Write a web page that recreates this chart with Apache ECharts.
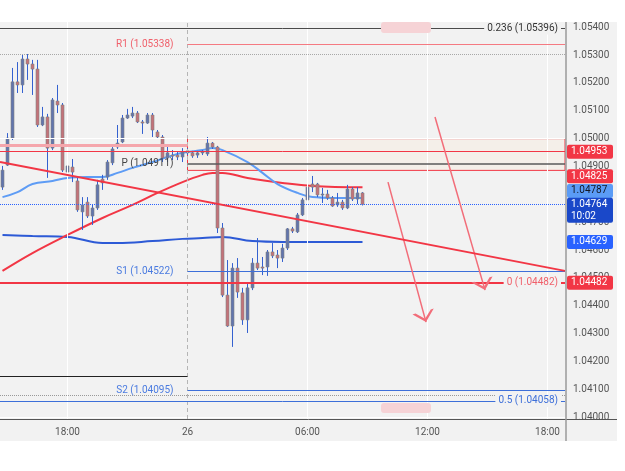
<!DOCTYPE html>
<html>
<head>
<meta charset="utf-8">
<title>EURUSD 15m</title>
<script src="https://cdn.jsdelivr.net/npm/echarts@6/dist/echarts.min.js"></script>
<style>
  html, body { margin: 0; padding: 0; background: #fff; }
  #main { width: 625px; height: 471px; }
</style>
</head>
<body>
<div id="main"></div>
<script>
// 15 minute bars, the first one opens 14:45 on the 25th
// [open, close, low, high]
const candles = [
  [1.04826, 1.04887, 1.04816, 1.04902],
  [1.04905, 1.05002, 1.04902, 1.05020],
  [1.05002, 1.05204, 1.04995, 1.05254],
  [1.05204, 1.05193, 1.05164, 1.05275],
  [1.05193, 1.05286, 1.05164, 1.05304],
  [1.05286, 1.05268, 1.05211, 1.05304],
  [1.05268, 1.05250, 1.05157, 1.05283],
  [1.05250, 1.05049, 1.05042, 1.05283],
  [1.05049, 1.05078, 1.05045, 1.05114],
  [1.05078, 1.04966, 1.04859, 1.05089],
  [1.04966, 1.05139, 1.04959, 1.05146],
  [1.05135, 1.05121, 1.05092, 1.05193],
  [1.05121, 1.04887, 1.04880, 1.05128],
  [1.04880, 1.04902, 1.04870, 1.04941],
  [1.04898, 1.04880, 1.04844, 1.04927],
  [1.04848, 1.04744, 1.04737, 1.04859],
  [1.04737, 1.04762, 1.04672, 1.04790],
  [1.04772, 1.04722, 1.04715, 1.04790],
  [1.04722, 1.04751, 1.04690, 1.04762],
  [1.04751, 1.04834, 1.04744, 1.04852],
  [1.04855, 1.04841, 1.04816, 1.04870],
  [1.04862, 1.04916, 1.04852, 1.04923],
  [1.04913, 1.04963, 1.04905, 1.04977],
  [1.04970, 1.04984, 1.04963, 1.05049],
  [1.04988, 1.05074, 1.04984, 1.05085],
  [1.05074, 1.05085, 1.05071, 1.05107],
  [1.05081, 1.05092, 1.05074, 1.05114],
  [1.05092, 1.05060, 1.05056, 1.05099],
  [1.05060, 1.05056, 1.05017, 1.05067],
  [1.05056, 1.05085, 1.05053, 1.05092],
  [1.05085, 1.05031, 1.05006, 1.05092],
  [1.05024, 1.05006, 1.05002, 1.05031],
  [1.05006, 1.04931, 1.04916, 1.05013],
  [1.04931, 1.04949, 1.04916, 1.04970],
  [1.04941, 1.04938, 1.04923, 1.04959],
  [1.04941, 1.04934, 1.04923, 1.04952],
  [1.04934, 1.04952, 1.04916, 1.04966],
  [1.04949, 1.04956, 1.04941, 1.04966],
  [1.04949, 1.04938, 1.04931, 1.04956],
  [1.04941, 1.04949, 1.04931, 1.04956],
  [1.04949, 1.04952, 1.04941, 1.04959],
  [1.04945, 1.04984, 1.04938, 1.05006],
  [1.04984, 1.04970, 1.04963, 1.04988],
  [1.04970, 1.04679, 1.04661, 1.04974],
  [1.04679, 1.04438, 1.04431, 1.04697],
  [1.04438, 1.04327, 1.04324, 1.04564],
  [1.04327, 1.04535, 1.04252, 1.04553],
  [1.04535, 1.04449, 1.04428, 1.04571],
  [1.04446, 1.04349, 1.04331, 1.04464],
  [1.04349, 1.04464, 1.04302, 1.04482],
  [1.04464, 1.04553, 1.04456, 1.04571],
  [1.04553, 1.04535, 1.04528, 1.04643],
  [1.04539, 1.04535, 1.04510, 1.04575],
  [1.04539, 1.04593, 1.04507, 1.04600],
  [1.04593, 1.04579, 1.04571, 1.04625],
  [1.04582, 1.04571, 1.04535, 1.04600],
  [1.04571, 1.04607, 1.04557, 1.04622],
  [1.04607, 1.04676, 1.04600, 1.04679],
  [1.04676, 1.04668, 1.04661, 1.04683],
  [1.04665, 1.04726, 1.04661, 1.04733],
  [1.04726, 1.04780, 1.04722, 1.04787],
  [1.04780, 1.04826, 1.04776, 1.04905],
  [1.04837, 1.04826, 1.04808, 1.04866],
  [1.04837, 1.04798, 1.04790, 1.04841],
  [1.04798, 1.04801, 1.04769, 1.04823],
  [1.04801, 1.04787, 1.04780, 1.04816],
  [1.04787, 1.04758, 1.04755, 1.04794],
  [1.04762, 1.04772, 1.04755, 1.04805],
  [1.04772, 1.04751, 1.04744, 1.04780],
  [1.04751, 1.04819, 1.04747, 1.04834],
  [1.04819, 1.04783, 1.04776, 1.04826],
  [1.04783, 1.04805, 1.04765, 1.04826],
  [1.04805, 1.04764, 1.04760, 1.04808]
];

// moving averages, [bar index, value]
const maFast = [[0, 1.04790], [3, 1.04808], [6, 1.04837], [10, 1.04848], [13, 1.04859], [17, 1.04862],
  [20, 1.04862], [23, 1.04877], [26, 1.04895], [30, 1.04916], [33, 1.04934], [36, 1.04949], [40, 1.04959],
  [42, 1.04966], [44, 1.04959], [49, 1.04916], [52, 1.04877], [55, 1.04837], [59, 1.04805], [62, 1.04790],
  [66, 1.04787], [72, 1.04787]];
const maMid = [[0, 1.04525], [6, 1.04589], [13, 1.04654], [20, 1.04715], [26, 1.04762], [31, 1.04805],
  [36, 1.04844], [40, 1.04870], [42, 1.04877], [44, 1.04877], [49, 1.04859], [56, 1.04841], [62, 1.04830],
  [72, 1.04825]];
const maSlow = [[0, 1.04654], [6, 1.04650], [13, 1.04647], [20, 1.04625], [23, 1.04625], [30, 1.04632],
  [36, 1.04640], [40, 1.04643], [44, 1.04647], [50, 1.04632], [56, 1.04629], [64, 1.04629], [72, 1.04629]];

// drawings (x in bar units)
const trendLine = [[-0.5, 1.04916], [112.5, 1.04525]];
const arrowLines = [
  [[77.1, 1.04844], [84.7, 1.04341]],
  [[86.5, 1.05078], [96.5, 1.04456]]
];

const pivots = { R1: 1.05338, P: 1.04911, S1: 1.04522, S2: 1.04095 };
const fibs = { '0.236': 1.05396, '0': 1.04482, '0.5': 1.04058 };
const zoneTop = 1.05000, zoneBottom = 1.04886, zoneLine = 1.04953;
const prevLevel = 1.04977, dayHigh = 1.05304, oldLow = 1.04148, dotLow = 1.04079;
const lastPrice = 1.04764;

const yTicks = [1.040, 1.041, 1.042, 1.043, 1.044, 1.045, 1.046, 1.047, 1.048, 1.049, 1.050, 1.051, 1.052, 1.053, 1.054];
const xTickLabels = ['18:00', '26', '06:00', '12:00'];

const tagPrices = [1.04953, 1.04825, 1.04787, 1.04764, 1.04629, 1.04482];
const tagTexts = ['1.04953', '1.04825', '1.04787', '1.04764\n10:02', '1.04629', '1.04482'];

// ---- categories: 15 min steps from 14:45 (25th) to 18:45 (26th)
const categories = [];
for (let i = 0; i < 113; i++) {
  const t = 14 * 60 + 45 + i * 15;
  const m = t % 1440;
  const hh = String(Math.floor(m / 60)).padStart(2, '0');
  const mm = String(m % 60).padStart(2, '0');
  categories.push(m === 0 ? '26' : hh + ':' + mm);
}
const X_L = -0.5, X_R = categories.length - 0.5;
const X_DAY = categories.indexOf('26');

const FONT = 'Roboto, sans-serif';
const PANEL = '#f2f2f2';
const RED = '#f23645', BLUE = '#3d6fd9';

function seg(x1, x2, p, lineStyle, label) {
  return [{ coord: [x1, p], lineStyle: lineStyle, label: label || { show: false } }, { coord: [x2, p] }];
}
function leftLabel(text, color) {
  return { show: true, position: 'start', distance: 14, formatter: text, color: color, fontSize: 10, fontFamily: FONT };
}
function endLabel(text, color) {
  return { show: true, position: 'insideEnd', distance: 4, formatter: text, color: color, fontSize: 10,
    fontFamily: FONT, backgroundColor: PANEL, padding: [1, 3] };
}
const px = v => v.toFixed(5);

function renderCandle(params, api) {
  const i = api.value(0);
  const o = api.value(1), c = api.value(2), l = api.value(3), h = api.value(4);
  const hi = api.coord([i, h]), lo = api.coord([i, l]);
  const po = api.coord([i, o]), pc = api.coord([i, c]);
  const w = api.size([1, 0])[0] * 0.6;
  const top = Math.min(po[1], pc[1]);
  const hgt = Math.max(1, Math.abs(po[1] - pc[1]));
  return {
    type: 'group',
    children: [
      { type: 'line', shape: { x1: hi[0], y1: hi[1], x2: lo[0], y2: lo[1] }, style: { stroke: '#3461d0', lineWidth: 1 } },
      { type: 'rect', shape: { x: hi[0] - w / 2, y: top, width: w, height: hgt },
        style: { fill: c >= o ? '#6275ad' : '#c3737a', stroke: 'rgba(130,130,130,0.6)', lineWidth: 1 } }
    ]
  };
}

const CHEVRON = 'path://M5,0L5,0M5,5L10,10L8.6,10L5,6.6L1.4,10L0,10Z';

const gridLines = yTicks.map(v => ({ yAxis: v }));
categories.forEach((c, i) => {
  if (c === '26') gridLines.push({ xAxis: i, lineStyle: { color: '#b5b5b5', type: [4, 3], width: 1 } });
  else if (xTickLabels.indexOf(c) >= 0) gridLines.push({ xAxis: i });
});

const option = {
  backgroundColor: '#ffffff',
  animation: false,
  textStyle: { fontFamily: FONT },
  grid: { left: 0, right: 60, top: 22, bottom: 52 },
  xAxis: [
    {
      type: 'category',
      data: categories,
      boundaryGap: true,
      axisLine: { show: false },
      axisTick: { show: false },
      splitLine: { show: false },
      axisLabel: {
        interval: (idx, val) => xTickLabels.indexOf(val) >= 0,
        color: '#555', fontSize: 10, margin: 8, fontFamily: FONT
      }
    },
    { type: 'value', min: X_L, max: X_R, show: false }
  ],
  yAxis: {
    type: 'value',
    position: 'right',
    min: 1.03993,
    max: 1.05419,
    axisLine: { show: false },
    axisTick: { show: false },
    splitLine: { show: false },
    axisLabel: { customValues: yTicks, formatter: v => px(v), color: '#555', fontSize: 10, margin: 8, fontFamily: FONT }
  },
  series: [
    {
      name: 'grid', type: 'line', xAxisIndex: 1, data: [], z: 1, silent: true,
      markLine: { silent: true, symbol: 'none', animation: false, label: { show: false },
        lineStyle: { color: '#ffffff', width: 1, type: 'solid' }, data: gridLines }
    },
    {
      name: 'levels', type: 'line', xAxisIndex: 1, data: [], z: 2, silent: true,
      markArea: {
        silent: true,
        data: [[{ coord: [X_DAY, zoneTop], itemStyle: { color: '#f4efe9', borderColor: RED, borderWidth: 1 } },
                { coord: [X_R, zoneBottom] }]]
      },
      markLine: {
        silent: true, symbol: 'none', animation: false,
        data: [
          seg(X_L, X_R, fibs['0.236'], { color: '#4a4a4a', width: 1, type: 'solid' }, endLabel('0.236 (' + px(fibs['0.236']) + ')', '#333')),
          seg(X_L, X_R, dayHigh, { color: '#a8a8a8', width: 1, type: 'dotted' }),
          seg(X_DAY, X_R, pivots.R1, { color: '#f57a82', width: 1, type: 'solid' }, leftLabel('R1 (' + px(pivots.R1) + ')', '#f0606b')),
          seg(X_L, X_DAY, prevLevel, { color: '#f5a6ac', width: 3, type: 'solid' }),
          seg(X_L, X_R, zoneLine, { color: RED, width: 1, type: 'solid' }),
          seg(X_DAY, X_R, pivots.P, { color: '#5a5a5a', width: 1.5, type: 'solid' }, leftLabel('P (' + px(pivots.P) + ')', '#444')),
          seg(X_L, X_R, lastPrice, { color: '#2962ff', width: 1, type: 'dotted' }),
          seg(X_DAY, X_R, pivots.S1, { color: BLUE, width: 1, type: 'solid' }, leftLabel('S1 (' + px(pivots.S1) + ')', '#4a7be0')),
          seg(X_L, X_R, fibs['0'], { color: RED, width: 2, type: 'solid' }, endLabel('0 (' + px(fibs['0']) + ')', '#f0606b')),
          seg(X_L, X_DAY, oldLow, { color: '#222', width: 1, type: 'solid' }),
          seg(X_DAY, X_R, pivots.S2, { color: BLUE, width: 1, type: 'solid' }, leftLabel('S2 (' + px(pivots.S2) + ')', '#4a7be0')),
          seg(X_L, X_R, dotLow, { color: '#999', width: 1, type: 'dotted' }),
          seg(X_L, X_R, fibs['0.5'], { color: BLUE, width: 1, type: 'solid' }, endLabel('0.5 (' + px(fibs['0.5']) + ')', '#3d6fd9'))
        ]
      }
    },
    { name: 'MA slow', type: 'line', data: maSlow, smooth: 0.4, showSymbol: false, z: 3, lineStyle: { color: '#2d5ad6', width: 2 } },
    { name: 'MA mid', type: 'line', data: maMid, smooth: 0.4, showSymbol: false, z: 3, lineStyle: { color: RED, width: 2 } },
    { name: 'MA fast', type: 'line', data: maFast, smooth: 0.4, showSymbol: false, z: 3, lineStyle: { color: '#5e9cf5', width: 2 } },
    {
      name: 'EURUSD', type: 'custom', z: 4,
      renderItem: renderCandle,
      encode: { x: 0, y: [1, 2, 3, 4] },
      data: candles.map((d, i) => [i].concat(d))
    },
    {
      name: 'trend', type: 'line', xAxisIndex: 1, data: trendLine, z: 5, showSymbol: false,
      lineStyle: { color: RED, width: 2 },
      markLine: {
        silent: true, animation: false,
        symbol: ['none', CHEVRON], symbolSize: 22,
        label: { show: false },
        lineStyle: { color: '#f26d79', width: 1.5, type: 'solid' },
        data: arrowLines.map(a => [{ coord: a[0] }, { coord: a[1] }])
      }
    }
  ],
  graphic: [
    { type: 'rect', z: -100, silent: true, shape: { x: 0, y: 22, width: 617, height: 419 }, style: { fill: PANEL } },
    { type: 'rect', z: 50, silent: true, shape: { x: 381, y: 22, width: 50, height: 11, r: 3 }, style: { fill: '#f6d3d6' } },
    { type: 'rect', z: 50, silent: true, shape: { x: 381, y: 403, width: 50, height: 10, r: 3 }, style: { fill: '#f6d3d6' } },
    { type: 'line', z: 60, silent: true, shape: { x1: 0, y1: 419.5, x2: 617, y2: 419.5 }, style: { stroke: '#555', lineWidth: 1 } },
    { type: 'line', z: 60, silent: true, shape: { x1: 566, y1: 22, x2: 566, y2: 441 }, style: { stroke: '#9a9a9a', lineWidth: 1.5 } }
  ]
};

const chart = echarts.init(document.getElementById('main'));
chart.setOption(option);

// price tags on the right scale
const tagBg = [RED, RED, '#5b9cf6', '#1a48c9', '#2962ff', RED];
const tagFg = ['#fff', '#fff', '#131722', '#fff', '#fff', '#fff'];
const tagShift = [0, -11, -7, 6, 0, 0];
const tagEls = [];
tagPrices.forEach((p, k) => {
  const y = chart.convertToPixel({ yAxisIndex: 0 }, p) + tagShift[k];
  const two = tagTexts[k].indexOf('\n') >= 0;
  const h = two ? 25 : 14;
  tagEls.push({ type: 'rect', z: 80, silent: true, shape: { x: 567, y: y - h / 2, width: 46, height: h, r: 2 }, style: { fill: tagBg[k] } });
  tagEls.push({ type: 'text', z: 81, silent: true, style: { x: 571, y: y, text: tagTexts[k], fill: tagFg[k],
    font: '10px ' + FONT, verticalAlign: 'middle', align: 'left', lineHeight: 12 } });
});
chart.setOption({ graphic: option.graphic.concat(tagEls) });
</script>
</body>
</html>
